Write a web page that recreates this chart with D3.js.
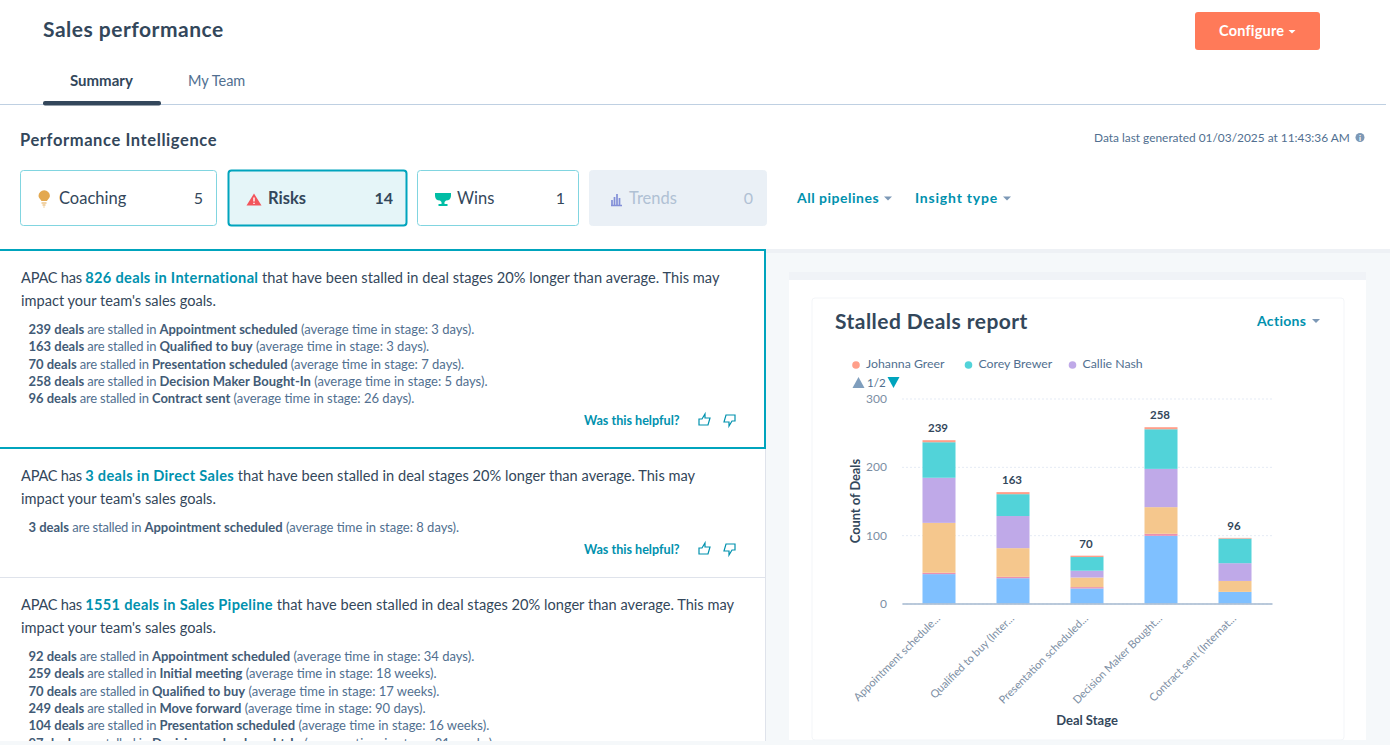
<!DOCTYPE html>
<html>
<head>
<meta charset="utf-8">
<script src="https://cdn.jsdelivr.net/npm/d3@7/dist/d3.min.js"></script>
<style>
  html, body { margin: 0; padding: 0; background: #fff; overflow: hidden; }
  text { font-family: Lato, "Open Sans", sans-serif; }
</style>
</head>
<body>
<svg id="page" width="1390" height="745"></svg>
<script>
// Chart data
const stages = ["Appointment schedule...", "Qualified to buy (Inter...", "Presentation scheduled...", "Decision Maker Bought...", "Contract sent (Internat..."];
const totals = [239, 163, 70, 258, 96];
const blueDeals = [43, 37, 22, 99, 17];
const pinkDeals = [2, 2, 2, 3, 0];
const orangeDeals = [73, 42, 14, 39, 16];
const callieNash = [66, 47, 10, 56, 26];
const coreyBrewer = [52, 32, 20, 58, 36];
const johannaGreer = [3, 3, 2, 3, 1];
const yTicks = [0, 100, 200, 300];

const legendNames = ["Johanna Greer", "Corey Brewer", "Callie Nash"];

// Insight cards text
const insights = [
  { head: "826 deals in International", tail: " that have been stalled in deal stages 20% longer than average. This may", rows: [
    ["239 deals", "Appointment scheduled", "3 days"],
    ["163 deals", "Qualified to buy", "3 days"],
    ["70 deals", "Presentation scheduled", "7 days"],
    ["258 deals", "Decision Maker Bought-In", "5 days"],
    ["96 deals", "Contract sent", "26 days"]] },
  { head: "3 deals in Direct Sales", tail: " that have been stalled in deal stages 20% longer than average. This may", rows: [
    ["3 deals", "Appointment scheduled", "8 days"]] },
  { head: "1551 deals in Sales Pipeline", tail: " that have been stalled in deal stages 20% longer than average. This may", rows: [
    ["92 deals", "Appointment scheduled", "34 days"],
    ["259 deals", "Initial meeting", "18 weeks"],
    ["70 deals", "Qualified to buy", "17 weeks"],
    ["249 deals", "Move forward", "90 days"],
    ["104 deals", "Presentation scheduled", "16 weeks"],
    ["97 deals", "Decision maker bought-In", "21 weeks"]] }
];
const insightTops = [278, 476, 605];
const helpfulY = [420, 549];

const tabs = [
  { label: "Coaching", count: 5, x: 20, w: 196, textX: 39, icon: "#e3a84f" },
  { label: "Risks", count: 14, x: 228, w: 178, textX: 40, icon: "#f2545b", active: true },
  { label: "Wins", count: 1, x: 417, w: 161, textX: 40, icon: "#00bda5" },
  { label: "Trends", count: 0, x: 589, w: 177, textX: 40, icon: "#6a78d1", off: true }
];

const dark = "#33475b", mid = "#516f90", teal = "#0091ae";
const svg = d3.select("#page");

function label(x, y, str, size, color, weight, anchor, spacing) {
  return svg.append("text").attr("x", x).attr("y", y).text(str)
    .attr("font-size", size).attr("fill", color)
    .attr("font-weight", weight || 400).attr("text-anchor", anchor || "start")
    .attr("letter-spacing", spacing || 0);
}
function caret(x, y, color) {
  svg.append("path").attr("d", `M${x},${y} h8 l-4,4 z`).attr("fill", color);
}

// Header
label(43, 37, "Sales performance", 21, dark, 700, "start", 0.5);
svg.append("rect").attr("x", 1195).attr("y", 12).attr("width", 125).attr("height", 38).attr("rx", 3).attr("fill", "#ff7a59");
label(1219, 36, "Configure", 14.5, "#fff", 700, "start", 0.2);
svg.append("path").attr("d", "M1288.5,30 h7 l-3.5,3.5 z").attr("fill", "#fff");
label(70, 86, "Summary", 15, dark, 700);
label(188, 86, "My Team", 14.5, mid);
svg.append("line").attr("x1", 0).attr("x2", 1386).attr("y1", 104.5).attr("y2", 104.5).attr("stroke", "#bfd0e2");
svg.append("rect").attr("x", 43).attr("y", 101).attr("width", 118).attr("height", 4.5).attr("rx", 2).attr("fill", "#33475b");

// Performance Intelligence row
label(20, 146, "Performance Intelligence", 16.5, dark, 700, "start", 0.6);
label(1094, 141.5, "Data last generated 01/03/2025 at 11:43:36 AM", 11.9, mid);
svg.append("circle").attr("cx", 1360).attr("cy", 137.5).attr("r", 4.5).attr("fill", "#7c98b6");
label(1360, 141, "i", 8, "#fff", 700, "middle");

tabs.forEach(t => {
  svg.append("rect").attr("x", t.x + 0.5).attr("y", 170.5).attr("width", t.w).attr("height", 55).attr("rx", 3)
    .attr("fill", t.off ? "#eaf0f6" : t.active ? "#e5f5f8" : "#fff")
    .attr("stroke", t.off ? "#eaf0f6" : t.active ? "#00a4bd" : "#81d5e0")
    .attr("stroke-width", t.active ? 2 : 1);
  const textColor = t.off ? "#b0c1d4" : dark;
  if (t.label == "Coaching") {
    svg.append("path").attr("d", "M41.5,201 c-1,-2 -3,-3 -3,-5 a5.7,5.7 0 1 1 11.4,0 c0,2 -2,3 -3,5 z").attr("fill", t.icon);
    svg.append("path").attr("d", "M41.5,203 h5 M42.5,205 h3 M43.5,207 h1").attr("stroke", t.icon).attr("stroke-width", 1.2);
  } else if (t.label == "Risks") {
    svg.append("path").attr("d", "M254,193.5 l7.5,12 h-15 z").attr("fill", t.icon);
    svg.append("path").attr("d", "M254,197.5 v4 M254,202.7 v1.3").attr("stroke", "#fff").attr("stroke-width", 1.4);
  } else if (t.label == "Wins") {
    svg.append("path").attr("d", "M435,193 h16 v3 a5,5 0 0 1 -5,4.5 l-1.5,1.5 v2 h3 v2 h-9 v-2 h3 v-2 l-1.5,-1.5 a5,5 0 0 1 -5,-4.5 z").attr("fill", t.icon);
  } else {
    svg.append("path").attr("d", "M612,205 v-5 M614.5,205 v-8 M617,205 v-11 M619.5,205 v-7 M611,205.5 h11").attr("stroke", t.icon).attr("stroke-width", 1.7).attr("opacity", 0.8);
  }
  label(t.x + t.textX, 204, t.label, 16.5, textColor, t.active ? 700 : 400);
  label(t.x + t.w - 13, 204, t.count, 16, textColor, t.active ? 700 : 400, "end");
});
label(797, 203, "All pipelines", 14, teal, 700, "start", 0.5);
caret(884, 196.5, "#7c98b6");
label(915, 203, "Insight type", 14, teal, 700, "start", 0.8);
caret(1003, 196.5, "#7c98b6");

// Right hand panel
svg.append("rect").attr("x", 766).attr("y", 249).attr("width", 624).attr("height", 496).attr("fill", "#f5f8fa");
svg.append("rect").attr("x", 766).attr("y", 249).attr("width", 624).attr("height", 4).attr("fill", "#eef1f5");
svg.append("rect").attr("x", 789).attr("y", 272).attr("width", 577).attr("height", 9).attr("fill", "#f0f3f7");
svg.append("rect").attr("x", 789).attr("y", 280).attr("width", 577).attr("height", 460).attr("fill", "#fff");
svg.append("rect").attr("x", 812).attr("y", 298).attr("width", 532).attr("height", 442).attr("rx", 3).attr("fill", "#fff")
  .attr("stroke", "#f3f5f8").attr("stroke-width", 1);

// Left hand insight list
svg.append("rect").attr("x", -2).attr("y", 250).attr("width", 767).attr("height", 198)
  .attr("fill", "#fff").attr("stroke", "#00a4bd").attr("stroke-width", 2);
svg.append("line").attr("x1", 0).attr("x2", 766).attr("y1", 577.5).attr("y2", 577.5).attr("stroke", "#dfe3eb");
svg.append("line").attr("x1", 765.5).attr("x2", 765.5).attr("y1", 449).attr("y2", 745).attr("stroke", "#dfe3eb");

insights.forEach((ins, i) => {
  const top = insightTops[i];
  const first = svg.append("text").attr("x", 21).attr("y", top + 5).attr("font-size", 14.6).attr("fill", dark);
  first.append("tspan").text("APAC has ").attr("letter-spacing", -0.25);
  first.append("tspan").text(ins.head).attr("font-weight", 700).attr("fill", teal).attr("letter-spacing", 0.32);
  first.append("tspan").text(ins.tail).attr("letter-spacing", 0.02);
  label(21, top + 28, "impact your team's sales goals.", 14.6, dark);
  ins.rows.forEach((r, j) => {
    const row = svg.append("text").attr("x", 28.5).attr("y", top + 56 + j * 17.3).attr("font-size", 13).attr("fill", mid);
    row.append("tspan").text(r[0]).attr("font-weight", 700).attr("fill", "#425b76");
    row.append("tspan").text(" are stalled in ").attr("letter-spacing", -0.2);
    row.append("tspan").text(r[1]).attr("font-weight", 700).attr("fill", "#425b76");
    row.append("tspan").text(` (average time in stage: ${r[2]}).`);
  });
  if (i < helpfulY.length) {
    label(584, helpfulY[i] + 5, "Was this helpful?", 12.6, teal, 700);
    svg.append("path").attr("d", `M699,${helpfulY[i] + 5} v-6 h3 l3,-5 v4 h5 l-2,7 z`).attr("fill", "none").attr("stroke", teal).attr("stroke-width", 1.2);
    svg.append("path").attr("d", `M735,${helpfulY[i] - 5} v6 h-3 l-3,5 v-4 h-5 l2,-7 z`).attr("fill", "none").attr("stroke", teal).attr("stroke-width", 1.2);
  }
});

// Fade at the bottom of the scrolling area
svg.append("rect").attr("x", 0).attr("y", 741).attr("width", 1390).attr("height", 4).attr("fill", "#f5f8fa");

// Chart card
label(835, 329, "Stalled Deals report", 21, dark, 700, "start", 0.45);
label(1257, 325.5, "Actions", 14, teal, 700, "start", 0.3);
caret(1312, 319, "#7c98b6");

const margin = { left: 902, right: 1272, top: 398.5, bottom: 603.5 };
const x = d3.scaleBand().domain(stages).range([margin.left, margin.right]).paddingInner(0.554).paddingOuter(0.277);
const y = d3.scaleLinear().domain([0, 300]).range([margin.bottom, margin.top]);

const seriesColors = ["#7fc0ff", "#ea90b1", "#f5c78d", "#bfa9e8", "#52d3d9", "#ff9f8a"];
const seriesValues = [blueDeals, pinkDeals, orangeDeals, callieNash, coreyBrewer, johannaGreer];
const table = stages.map((s, i) => {
  const row = { stage: s };
  seriesValues.forEach((v, k) => { row[k] = v[i]; });
  return row;
});
const stacked = d3.stack().keys(seriesValues.map((v, k) => k))(table);

// Gridlines and y axis
const yAxis = svg.append("g").attr("transform", `translate(${margin.left},0)`)
  .call(d3.axisLeft(y).tickValues(yTicks).tickSize(-(margin.right - margin.left)).tickPadding(15));
yAxis.select(".domain").remove();
yAxis.selectAll("line").attr("stroke", "#e5ebf5").attr("stroke-dasharray", "2,2");
yAxis.selectAll("text").attr("font-size", 12).attr("fill", "#7c8ea3").attr("font-family", "Lato");

stacked.forEach((layer, k) => {
  svg.append("g").selectAll("rect").data(layer).join("rect")
    .attr("x", d => x(d.data.stage))
    .attr("width", x.bandwidth())
    .attr("y", d => y(d[1]))
    .attr("height", d => y(d[0]) - y(d[1]))
    .attr("fill", seriesColors[k]);
});

// x axis
const xAxis = svg.append("g").attr("transform", `translate(0,${margin.bottom})`)
  .call(d3.axisBottom(x).tickSize(0));
xAxis.select(".domain").attr("stroke", "#a5b8cf").attr("stroke-width", 1.5);
xAxis.selectAll("text")
  .attr("font-size", 11).attr("fill", "#7c8ea3").attr("font-family", "Lato")
  .attr("text-anchor", "end")
  .attr("x", 0).attr("y", 0).attr("dy", "0.35em")
  .attr("transform", "translate(-1,13) rotate(-45)");

// Totals on top of the stacks
svg.append("g").selectAll("text").data(stages).join("text")
  .attr("x", d => x(d) + x.bandwidth() / 2 - 1)
  .attr("y", (d, i) => y(totals[i]) - 8)
  .attr("text-anchor", "middle")
  .attr("font-size", 11.5).attr("font-weight", 700).attr("fill", dark)
  .text((d, i) => totals[i]);

// Axis titles
label(1087, 724.5, "Deal Stage", 13, dark, 700, "middle");
svg.append("text").attr("transform", "translate(860,501) rotate(-90)").attr("text-anchor", "middle")
  .attr("font-size", 12.8).attr("font-weight", 700).attr("fill", dark).text("Count of Deals");

// Legend, first page
const legendX = [856, 968.5, 1072.5];
const legendColors = [seriesColors[5], seriesColors[4], seriesColors[3]];
legendNames.forEach((n, i) => {
  svg.append("circle").attr("cx", legendX[i]).attr("cy", 365).attr("r", 3.8).attr("fill", legendColors[i]);
  label(legendX[i] + 10, 368, n, 12.3, "#516f90");
});
svg.append("path").attr("d", "M852.5,388 l6,-11 l6,11 z").attr("fill", "#7f9ebd");
label(867, 386.5, "1/2", 11.6, mid);
svg.append("path").attr("d", "M887.5,377 h12 l-6,11 z").attr("fill", "#00a4bd");
</script>
</body>
</html>
